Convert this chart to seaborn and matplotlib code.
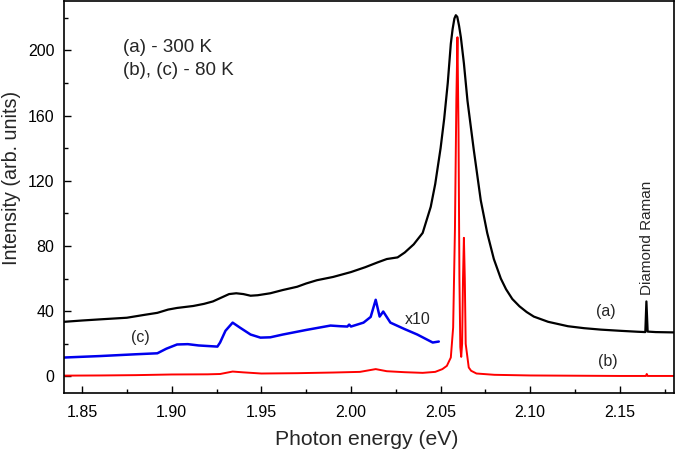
import numpy as np
import pandas as pd
import matplotlib
matplotlib.use("Agg")
import matplotlib.pyplot as plt
from matplotlib.ticker import MultipleLocator, FormatStrFormatter
import seaborn as sns

# (a) 300 K spectrum
a_x = [1.840, 1.850, 1.860, 1.875, 1.885, 1.892, 1.898, 1.903, 1.912, 1.918,
       1.923, 1.928, 1.932, 1.936, 1.940, 1.944, 1.948, 1.955, 1.962, 1.970,
       1.975, 1.981, 1.990, 2.000, 2.008, 2.015, 2.020, 2.026, 2.030, 2.035,
       2.040, 2.0445, 2.047, 2.050, 2.052, 2.054, 2.0557, 2.0567, 2.0577, 2.0585,
       2.0593, 2.0603, 2.0613, 2.063, 2.065, 2.0685, 2.0724, 2.076, 2.0797, 2.0836,
       2.0865, 2.090, 2.094, 2.098, 2.102, 2.110, 2.121, 2.130, 2.1395, 2.150,
       2.160, 2.1642, 2.1648, 2.1655, 2.170, 2.180]
a_y = [33.5, 34.3, 35.0, 36.0, 37.8, 39.0, 41.0, 42.0, 43.2, 44.5,
       46.0, 48.5, 50.5, 51.0, 50.5, 49.5, 49.8, 51.0, 53.0, 55.0,
       57.0, 59.0, 61.0, 64.0, 67.0, 70.0, 72.0, 73.0, 76.0, 81.0,
       88.0, 104.0, 118.0, 140.0, 158.0, 180.0, 204.0, 213.0, 219.5, 221.5,
       220.5, 215.0, 208.0, 192.0, 169.0, 139.0, 108.0, 88.0, 72.0, 60.0,
       53.5, 47.5, 43.0, 39.5, 36.7, 33.5, 30.8, 29.6, 28.7, 28.0,
       27.4, 27.2, 46.0, 27.5, 27.2, 27.0]

# (b) 80 K spectrum
b_x = [1.840, 1.860, 1.880, 1.900, 1.920, 1.927, 1.934, 1.940, 1.950, 1.970,
       1.990, 2.005, 2.0138, 2.020, 2.030, 2.040, 2.047, 2.051, 2.0535, 2.0557,
       2.057, 2.058, 2.0588, 2.0594, 2.060, 2.0605, 2.061, 2.0615, 2.062, 2.0625,
       2.063, 2.0635, 2.064, 2.0657, 2.067, 2.070, 2.080, 2.100, 2.150, 2.1645,
       2.1650, 2.1655, 2.180]
b_y = [0.5, 0.6, 0.8, 1.2, 1.3, 1.5, 3.0, 2.5, 1.8, 2.0,
       2.4, 2.8, 4.5, 3.2, 2.6, 2.2, 2.8, 4.5, 6.5, 11.6,
       30.0, 90.0, 170.0, 208.0, 150.0, 60.0, 18.0, 12.0, 20.0, 60.0,
       85.0, 60.0, 20.0, 5.5, 3.5, 1.8, 1.0, 0.6, 0.3, 0.3,
       1.5, 0.3, 0.3]

# (c) 80 K spectrum, x10
c_x = [1.840, 1.860, 1.880, 1.892, 1.897, 1.903, 1.909, 1.915, 1.9255, 1.927,
       1.930, 1.934, 1.938, 1.944, 1.9495, 1.955, 1.962, 1.975, 1.9886, 1.994,
       1.998, 1.999, 2.000, 2.007, 2.011, 2.0138, 2.016, 2.018, 2.022, 2.030,
       2.037, 2.0456, 2.049]
c_y = [11.6, 12.5, 13.6, 14.2, 17.0, 19.6, 19.8, 19.0, 18.3, 20.8,
       28.0, 33.0, 30.0, 25.7, 23.8, 24.0, 25.7, 28.5, 31.2, 30.8,
       30.6, 31.8, 30.6, 33.0, 36.5, 47.0, 36.7, 39.8, 33.0, 29.0,
       25.7, 20.8, 21.4]

sns.set_style("ticks")
plt.rcParams['font.family'] = ['Liberation Sans', 'DejaVu Sans']

fig, ax = plt.subplots(figsize=(6.75, 4.53), dpi=100)
fig.subplots_adjust(left=0.095, right=0.998, top=0.997, bottom=0.133)

sns.lineplot(x=a_x, y=a_y, color='black', linewidth=1.6, ax=ax)
sns.lineplot(x=c_x, y=c_y, color='#0000ee', linewidth=1.8, ax=ax)
sns.lineplot(x=b_x, y=b_y, color='#ff0000', linewidth=1.4, ax=ax)

ax.set_xlim(1.84, 2.18)
ax.set_ylim(-10, 230)
ax.xaxis.set_major_locator(MultipleLocator(0.05))
ax.xaxis.set_minor_locator(MultipleLocator(0.025))
ax.yaxis.set_major_locator(MultipleLocator(40))
ax.yaxis.set_minor_locator(MultipleLocator(20))
ax.xaxis.set_major_formatter(FormatStrFormatter('%.2f'))
ax.tick_params(which='both', direction='in', top=False, right=False,
               labelsize=11.5, width=1.0, colors='black')
ax.tick_params(axis='x', which='major', length=5, pad=9)
ax.tick_params(axis='y', which='major', length=5, pad=7)
ax.tick_params(which='minor', length=3)
for s in ax.spines.values():
    s.set_linewidth(1.2)
    s.set_color('black')
    s.set_visible(True)

ax.set_xlabel('Photon energy (eV)', fontsize=15.2)
ax.set_ylabel('Intensity (arb. units)', fontsize=14.2)
ax.xaxis.set_label_coords(0.497, -0.095)
ax.yaxis.set_label_coords(-0.071, 0.55)

ax.text(0.097, 0.882, '(a) - 300 K', transform=ax.transAxes, fontsize=13.5, va='center')
ax.text(0.097, 0.823, '(b), (c) - 80 K', transform=ax.transAxes, fontsize=13.5, va='center')
ax.text(1.8825, 24, '(c)', fontsize=11.5, ha='center', va='center')
ax.text(2.0372, 35, 'x10', fontsize=11.5, ha='center', va='center')
ax.text(2.1423, 40, '(a)', fontsize=11.5, ha='center', va='center')
ax.text(2.1434, 9, '(b)', fontsize=11.5, ha='center', va='center')
ax.text(2.165, 50, 'Diamond Raman', fontsize=11, rotation=90, ha='center', va='bottom')

fig.savefig('out.png', dpi=100)
